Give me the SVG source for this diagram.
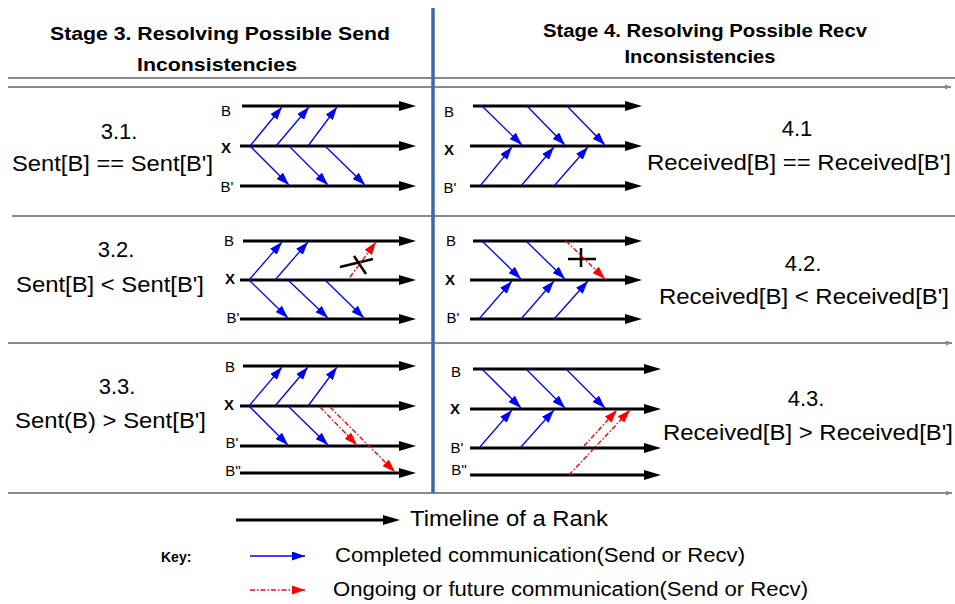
<svg xmlns="http://www.w3.org/2000/svg" width="955" height="604" viewBox="0 0 955 604">
<style>
text{font-family:"Liberation Sans",Arial,sans-serif;fill:#000}
.hd{font-size:18px;font-weight:bold;text-anchor:middle}
.big{font-size:22px}
.mid{text-anchor:middle}
.lbl{font-size:15px;text-anchor:middle}
.lx{font-size:15px;font-weight:bold;text-anchor:middle}
.key{font-size:20px}
.tl{stroke:#000;stroke-width:3;fill:none;marker-end:url(#ahK)}
.bl{stroke:#0000ff;stroke-width:1.3;fill:none;marker-end:url(#ahB)}
.rd{stroke:#ff0000;stroke-width:1.4;fill:none;stroke-dasharray:5 2 1.5 2;marker-end:url(#ahR)}
.gr{stroke:#8a8a8a;stroke-width:2;fill:none}
.gra{stroke:#8a8a8a;stroke-width:2;fill:none;marker-end:url(#ahG)}
.cr{stroke:#000;stroke-width:2.5;fill:none}
</style>
<defs>
<marker id="ahK" markerUnits="userSpaceOnUse" viewBox="0 0 17 10" markerWidth="17" markerHeight="10" refX="9" refY="5" orient="auto"><path d="M0,0L17,5L0,10z" fill="#000"/></marker>
<marker id="ahB" markerUnits="userSpaceOnUse" viewBox="0 0 13 9" markerWidth="13" markerHeight="9" refX="13" refY="4.5" orient="auto"><path d="M0,0L13,4.5L0,9z" fill="#0000ff"/></marker>
<marker id="ahR" markerUnits="userSpaceOnUse" viewBox="0 0 13 9" markerWidth="13" markerHeight="9" refX="13" refY="4.5" orient="auto"><path d="M0,0L13,4.5L0,9z" fill="#ff0000"/></marker>
<marker id="ahG" markerUnits="userSpaceOnUse" viewBox="0 0 6 5" markerWidth="6" markerHeight="5" refX="6" refY="2.5" orient="auto"><path d="M0,0L6,2.5L0,5z" fill="#8a8a8a"/></marker>
</defs>
<rect width="955" height="604" fill="#fff"/>

<g id="frame">
<line class="gr" x1="8" y1="78" x2="955" y2="78"/>
<line class="gra" x1="8" y1="87" x2="951" y2="87"/>
<line class="gr" x1="12" y1="216" x2="955" y2="216"/>
<line class="gra" x1="8" y1="343" x2="952" y2="343"/>
<line class="gra" x1="8" y1="493" x2="952" y2="493"/>
<line x1="433" y1="8" x2="433" y2="493" stroke="#3d6aa6" stroke-width="3.5"/>
</g>

<g id="headers">
<text class="hd" x="220" y="40" textLength="340" lengthAdjust="spacingAndGlyphs">Stage 3. Resolving Possible Send</text>
<text class="hd" x="217" y="71" textLength="160" lengthAdjust="spacingAndGlyphs">Inconsistencies</text>
<text class="hd" x="705" y="37" textLength="324" lengthAdjust="spacingAndGlyphs">Stage 4. Resolving Possible Recv</text>
<text class="hd" x="700" y="63" textLength="151" lengthAdjust="spacingAndGlyphs">Inconsistencies</text>
</g>

<g id="case31">
<text class="big mid" x="119" y="139">3.1.</text>
<text class="big" x="12" y="171" textLength="201" lengthAdjust="spacingAndGlyphs">Sent[B] == Sent[B']</text>
</g>
<g id="case41">
<text class="big mid" x="797" y="136">4.1</text>
<text class="big" x="647" y="170" textLength="304" lengthAdjust="spacingAndGlyphs">Received[B] == Received[B']</text>
</g>
<g id="case32">
<text class="big mid" x="116" y="257">3.2.</text>
<text class="big" x="16" y="292" textLength="188" lengthAdjust="spacingAndGlyphs">Sent[B] &lt; Sent[B']</text>
</g>
<g id="case42">
<text class="big mid" x="803" y="271">4.2.</text>
<text class="big" x="659" y="304" textLength="290" lengthAdjust="spacingAndGlyphs">Received[B] &lt; Received[B']</text>
</g>
<g id="case33">
<text class="big mid" x="117" y="394">3.3.</text>
<text class="big" x="15" y="428" textLength="191" lengthAdjust="spacingAndGlyphs">Sent(B) &gt; Sent[B']</text>
</g>
<g id="case43">
<text class="big mid" x="806" y="406">4.3.</text>
<text class="big" x="663" y="440" textLength="290" lengthAdjust="spacingAndGlyphs">Received[B] &gt; Received[B']</text>
</g>

<g id="panel31">
<text class="lbl" x="226" y="116">B</text>
<text class="lx" x="226" y="153">X</text>
<text class="lbl" x="227" y="192">B'</text>
<line class="tl" x1="242" y1="106" x2="408" y2="106"/>
<line class="tl" x1="240" y1="146" x2="408" y2="146"/>
<line class="tl" x1="240" y1="186" x2="408" y2="186"/>
</g>
<g id="panel41">
<text class="lbl" x="449" y="117">B</text>
<text class="lx" x="449" y="155">X</text>
<text class="lbl" x="450" y="193">B'</text>
<line class="tl" x1="473" y1="106" x2="634" y2="106"/>
<line class="tl" x1="470" y1="146" x2="634" y2="146"/>
<line class="tl" x1="470" y1="186" x2="634" y2="186"/>
</g>
<g id="panel32">
<text class="lbl" x="229" y="246">B</text>
<text class="lx" x="230" y="284">X</text>
<text class="lbl" x="233" y="323">B'</text>
<line class="tl" x1="243" y1="241" x2="408" y2="241"/>
<line class="tl" x1="240" y1="280" x2="408" y2="280"/>
<line class="tl" x1="240" y1="319" x2="408" y2="319"/>
<line class="cr" x1="340" y1="267" x2="373" y2="259"/>
<line class="cr" x1="354" y1="256" x2="366" y2="274"/>
</g>
<g id="panel42">
<text class="lbl" x="451" y="246">B</text>
<text class="lx" x="450" y="285">X</text>
<text class="lbl" x="453" y="323">B'</text>
<line class="tl" x1="473" y1="241" x2="634" y2="241"/>
<line class="tl" x1="470" y1="280" x2="634" y2="280"/>
<line class="tl" x1="470" y1="319" x2="634" y2="319"/>
<line class="cr" x1="568" y1="259" x2="596" y2="259"/>
<line class="cr" x1="581" y1="248" x2="581" y2="267"/>
</g>
<g id="panel33">
<text class="lbl" x="230" y="372">B</text>
<text class="lx" x="229" y="410">X</text>
<text class="lbl" x="232" y="448">B'</text>
<text class="lbl" x="233" y="476">B''</text>
<line class="tl" x1="243" y1="366" x2="408" y2="366"/>
<line class="tl" x1="240" y1="406" x2="408" y2="406"/>
<line class="tl" x1="240" y1="446" x2="408" y2="446"/>
<line class="tl" x1="240" y1="473" x2="408" y2="473"/>
</g>
<g id="panel43">
<text class="lbl" x="456" y="377">B</text>
<text class="lx" x="455" y="414">X</text>
<text class="lbl" x="457" y="453">B'</text>
<text class="lbl" x="459" y="475">B''</text>
<line class="tl" x1="473" y1="369" x2="653" y2="369"/>
<line class="tl" x1="470" y1="409" x2="653" y2="409"/>
<line class="tl" x1="470" y1="448" x2="653" y2="448"/>
<line class="tl" x1="470" y1="475" x2="653" y2="475"/>
</g>

<g id="connectors">
<line class="bl" x1="250" y1="146" x2="282" y2="107"/>
<line class="bl" x1="276" y1="146" x2="309" y2="107"/>
<line class="bl" x1="308" y1="146" x2="337" y2="107"/>
<line class="bl" x1="250" y1="146" x2="289" y2="185"/>
<line class="bl" x1="289" y1="146" x2="328" y2="185"/>
<line class="bl" x1="325" y1="146" x2="365" y2="185"/>

<line class="bl" x1="482" y1="106" x2="522" y2="145"/>
<line class="bl" x1="527" y1="106" x2="565" y2="145"/>
<line class="bl" x1="567" y1="106" x2="605" y2="145"/>
<line class="bl" x1="480" y1="186" x2="512" y2="147"/>
<line class="bl" x1="521" y1="186" x2="554" y2="147"/>
<line class="bl" x1="554" y1="186" x2="588" y2="147"/>

<line class="bl" x1="249" y1="280" x2="282" y2="242"/>
<line class="bl" x1="275" y1="280" x2="308" y2="242"/>
<line class="bl" x1="249" y1="280" x2="288" y2="318"/>
<line class="bl" x1="288" y1="280" x2="328" y2="318"/>
<line class="bl" x1="325" y1="280" x2="364" y2="318"/>
<line class="rd" x1="350" y1="277" x2="376" y2="242"/>

<line class="bl" x1="482" y1="241" x2="521" y2="279"/>
<line class="bl" x1="526" y1="241" x2="565" y2="279"/>
<line class="bl" x1="479" y1="319" x2="512" y2="281"/>
<line class="bl" x1="521" y1="319" x2="554" y2="281"/>
<line class="bl" x1="554" y1="319" x2="588" y2="281"/>
<line class="rd" x1="566" y1="241" x2="605" y2="279"/>

<line class="bl" x1="249" y1="406" x2="282" y2="367"/>
<line class="bl" x1="275" y1="406" x2="308" y2="367"/>
<line class="bl" x1="308" y1="406" x2="337" y2="367"/>
<line class="bl" x1="249" y1="406" x2="288" y2="445"/>
<line class="bl" x1="288" y1="406" x2="328" y2="445"/>
<line class="rd" x1="320" y1="407" x2="357" y2="445"/>
<line class="rd" x1="330" y1="407" x2="395" y2="472"/>

<line class="bl" x1="482" y1="369" x2="521" y2="408"/>
<line class="bl" x1="526" y1="369" x2="565" y2="408"/>
<line class="bl" x1="566" y1="369" x2="605" y2="408"/>
<line class="bl" x1="479" y1="448" x2="512" y2="410"/>
<line class="bl" x1="520" y1="448" x2="554" y2="410"/>
<line class="rd" x1="584" y1="446" x2="617" y2="410"/>
<line class="rd" x1="569" y1="475" x2="630" y2="410"/>
</g>

<g id="legend">
<line class="tl" x1="236" y1="520" x2="392" y2="520"/>
<text class="big" x="410" y="526" textLength="198" lengthAdjust="spacingAndGlyphs">Timeline of a Rank</text>
<text x="161" y="562" font-size="14" font-weight="bold">Key:</text>
<line class="bl" x1="250" y1="556" x2="305" y2="556"/>
<text class="key" x="335" y="562" textLength="410" lengthAdjust="spacingAndGlyphs">Completed communication(Send or Recv)</text>
<line class="rd" x1="250" y1="590" x2="305" y2="590"/>
<text class="key" x="333" y="596" textLength="475" lengthAdjust="spacingAndGlyphs">Ongoing or future communication(Send or Recv)</text>
</g>
</svg>
